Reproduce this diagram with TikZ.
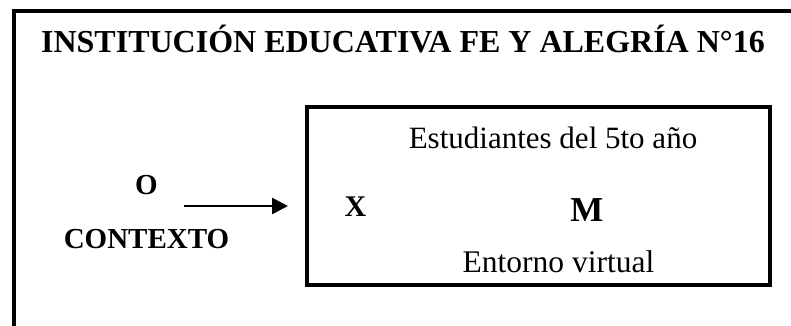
\documentclass[tikz,border=0pt]{standalone}
\usepackage{fontspec}
\setmainfont{Liberation Serif}
\usetikzlibrary{arrows.meta}
\begin{document}
\begin{tikzpicture}[x=1pt,y=-1pt,
  frame/.style={line width=4pt, line join=miter, line cap=butt},
  boxstyle/.style={draw, line width=4pt, inner sep=0pt, minimum width=462.5pt, minimum height=178pt},
  txt/.style={inner sep=0pt, anchor=base},
  arrowline/.style={line width=2.5pt, -{Triangle[length=16pt,width=16pt]}}]
\useasboundingbox (0,0) rectangle (791,326);
\fill[white] (0,0) rectangle (791,326);
\coordinate (fb) at (13.5,328);
\coordinate (fc) at (13.5,11);
\coordinate (fr) at (793,11);
\draw[frame] (fb) -- (fc) -- (fr);
\node[txt] (title) at (403,53) {\fontsize{32}{36}\selectfont\bfseries INSTITUCIÓN EDUCATIVA FE Y ALEGRÍA N°16};
\node[boxstyle] (box) at (538.25,196) {};
\node[txt] (est) at (553,148) {\fontsize{31}{36}\selectfont Estudiantes del 5to año};
\node[txt] (x) at (355.5,216) {\fontsize{30}{36}\selectfont\bfseries X};
\node[txt] (m) at (587,221) {\fontsize{35}{40}\selectfont\bfseries M};
\node[txt] (ent) at (558.5,272) {\fontsize{31.5}{36}\selectfont Entorno virtual};
\node[txt] (o) at (146.5,194) {\fontsize{29}{34}\selectfont\bfseries O};
\node[txt] (ctx) at (146.5,248) {\fontsize{29}{34}\selectfont\bfseries CONTEXTO};
\coordinate (as) at (184,206);
\coordinate (ae) at (288,206);
\draw[arrowline] (as) -- (ae);
\end{tikzpicture}
\end{document}
